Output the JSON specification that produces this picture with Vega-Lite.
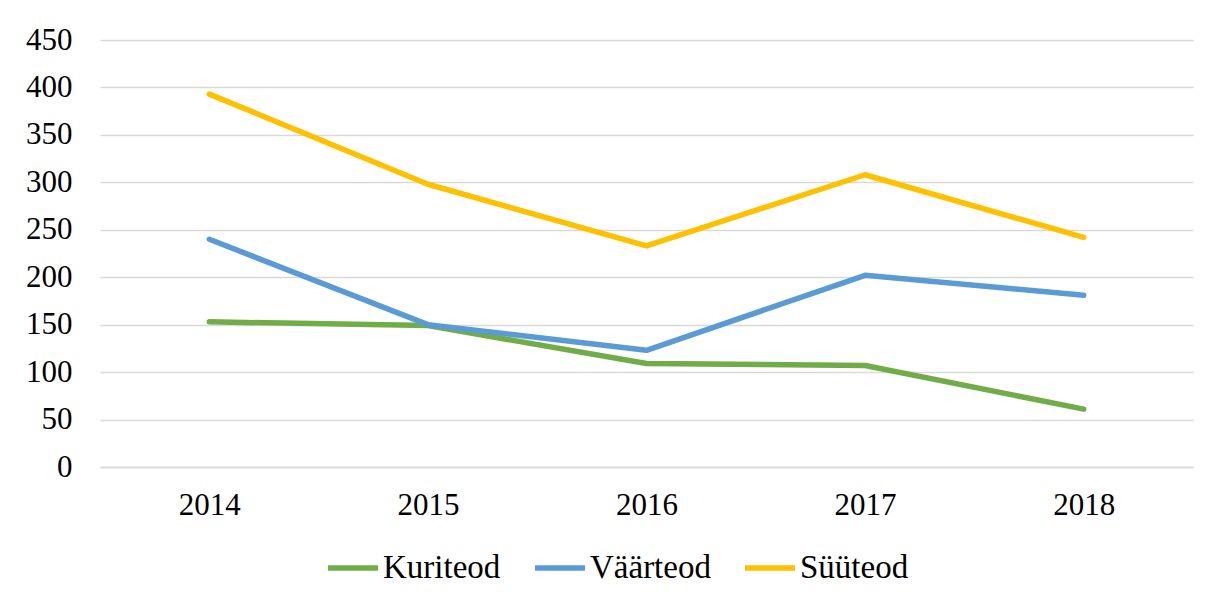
{
  "$schema": "https://vega.github.io/schema/vega-lite/v6.json",
  "autosize": {"type": "none"},
  "width": 1093,
  "height": 427,
  "padding": {"left": 100, "top": 40, "right": 25, "bottom": 137},
  "background": "white",
  "data": {"values": [
    {"aasta": "2014", "liik": "Kuriteod", "arv": 153},
    {"aasta": "2015", "liik": "Kuriteod", "arv": 149},
    {"aasta": "2016", "liik": "Kuriteod", "arv": 109},
    {"aasta": "2017", "liik": "Kuriteod", "arv": 107},
    {"aasta": "2018", "liik": "Kuriteod", "arv": 61},
    {"aasta": "2014", "liik": "Väärteod", "arv": 240},
    {"aasta": "2015", "liik": "Väärteod", "arv": 150},
    {"aasta": "2016", "liik": "Väärteod", "arv": 123},
    {"aasta": "2017", "liik": "Väärteod", "arv": 202},
    {"aasta": "2018", "liik": "Väärteod", "arv": 181},
    {"aasta": "2014", "liik": "Süüteod", "arv": 393},
    {"aasta": "2015", "liik": "Süüteod", "arv": 298},
    {"aasta": "2016", "liik": "Süüteod", "arv": 233},
    {"aasta": "2017", "liik": "Süüteod", "arv": 308},
    {"aasta": "2018", "liik": "Süüteod", "arv": 242}
  ]},
  "mark": {"type": "line", "strokeWidth": 5.5, "strokeCap": "round", "strokeJoin": "round"},
  "encoding": {
    "x": {
      "field": "aasta", "type": "ordinal",
      "scale": {"type": "point", "padding": 0.5},
      "axis": {
        "title": null, "labelAngle": 0, "ticks": false, "grid": false,
        "domain": true, "domainColor": "#D9D9D9", "domainWidth": 1.5,
        "labelFont": "Liberation Serif", "labelFontSize": 31, "labelColor": "#000000",
        "labelPadding": 23
      }
    },
    "y": {
      "field": "arv", "type": "quantitative",
      "scale": {"domain": [0, 450], "nice": false},
      "axis": {
        "title": null, "values": [0, 50, 100, 150, 200, 250, 300, 350, 400, 450],
        "ticks": false, "domain": false,
        "grid": true, "gridColor": "#D9D9D9", "gridWidth": 1.5,
        "labelFont": "Liberation Serif", "labelFontSize": 31, "labelColor": "#000000",
        "labelPadding": 28
      }
    },
    "color": {
      "field": "liik", "type": "nominal",
      "scale": {"domain": ["Kuriteod", "Väärteod", "Süüteod"], "range": ["#70AD47", "#5B9BD5", "#FFC000"]},
      "legend": {
        "title": null, "orient": "none", "direction": "horizontal",
        "legendX": 225, "legendY": 500,
        "symbolType": "stroke", "symbolSize": 2500, "symbolStrokeWidth": 5.5,
        "labelFont": "Liberation Serif", "labelFontSize": 33, "labelColor": "#000000",
        "labelOffset": 2, "columnPadding": 23
      }
    }
  },
  "config": {"view": {"stroke": null}}
}
